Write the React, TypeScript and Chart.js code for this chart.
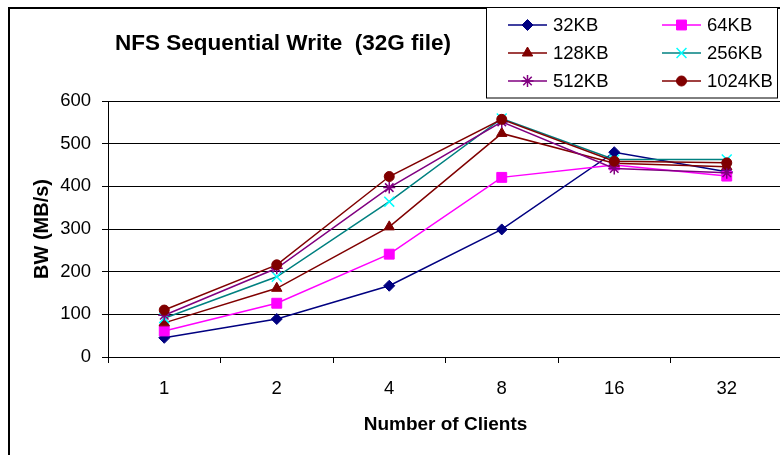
import React, { useEffect, useRef } from 'react';
import Chart from 'chart.js/auto';
import { drawPoint } from 'chart.js/helpers';

const categories = ['1', '2', '4', '8', '16', '32'];
const seriesNames = ['32KB', '64KB', '128KB', '256KB', '512KB', '1024KB'];
const s32 = [45, 89, 167, 299, 480, 434];
const s64 = [61, 126, 241, 421, 450, 424];
const s128 = [80, 161, 305, 524, 454, 446];
const s256 = [91, 188, 364, 559, 463, 463];
const s512 = [98, 208, 397, 551, 442, 432];
const s1024 = [110, 216, 423, 557, 459, 455];
const yMin = 0;
const yMax = 600;
const yStep = 100;

const seriesValues = [s32, s64, s128, s256, s512, s1024];

const FONT = '"Liberation Sans", Arial, sans-serif';

const styles = [
  { line: '#000080', fill: '#000080', stroke: '#000080', pointStyle: 'rectRot', radius: 5.5, bw: 1 },
  { line: '#FF00FF', fill: '#FF00FF', stroke: '#FF00FF', pointStyle: 'rect', radius: 7, bw: 1 },
  { line: '#800000', fill: '#800000', stroke: '#800000', pointStyle: 'triangle', radius: 6, bw: 1 },
  { line: '#008080', fill: 'rgba(0,0,0,0)', stroke: '#00FFFF', pointStyle: 'crossRot', radius: 7, bw: 1.5 },
  { line: '#800080', fill: 'rgba(0,0,0,0)', stroke: '#800080', pointStyle: 'star', radius: 6, bw: 1.5 },
  { line: '#800000', fill: '#800000', stroke: '#800000', pointStyle: 'circle', radius: 5, bw: 1 },
];

const decor = {
  id: 'decor',
  beforeDraw(chart: any) {
    const ctx = chart.ctx;
    ctx.save();
    ctx.fillStyle = '#fff';
    ctx.fillRect(0, 0, chart.width, chart.height);
    ctx.restore();
  },
  afterDraw(chart: any) {
    const ctx = chart.ctx;
    ctx.save();
    // outer border
    ctx.strokeStyle = '#000';
    ctx.lineWidth = 2;
    ctx.strokeRect(9, 8, 1000, 1000);
    // title
    ctx.fillStyle = '#000';
    ctx.font = `bold 22.5px ${FONT}`;
    ctx.textAlign = 'center';
    ctx.textBaseline = 'middle';
    ctx.fillText('NFS Sequential Write  (32G file)', 283, 44);
    // legend box
    ctx.fillStyle = '#fff';
    ctx.fillRect(486.5, 7.5, 291, 90.5);
    ctx.strokeStyle = '#000';
    ctx.lineWidth = 1;
    ctx.strokeRect(486.5, 7.5, 291, 90.5);
    const rows = [25, 53, 81];
    const cols = [508, 662];
    ctx.font = `18.5px ${FONT}`;
    ctx.textAlign = 'left';
    ctx.textBaseline = 'middle';
    seriesNames.forEach((name, i) => {
      const st = styles[i];
      const x0 = cols[i % 2];
      const y = rows[Math.floor(i / 2)];
      ctx.strokeStyle = st.line;
      ctx.lineWidth = 1.5;
      ctx.beginPath();
      ctx.moveTo(x0, y);
      ctx.lineTo(x0 + 39, y);
      ctx.stroke();
      ctx.fillStyle = st.fill;
      ctx.strokeStyle = st.stroke;
      ctx.lineWidth = st.bw;
      drawPoint(ctx, { pointStyle: st.pointStyle, radius: st.radius, rotation: 0, borderWidth: st.bw } as any, x0 + 19.5, y);
      ctx.fillStyle = '#000';
      ctx.fillText(name, x0 + 45, y + 1);
    });
    ctx.restore();
  },
};

export default function App() {
  const ref = useRef<HTMLCanvasElement>(null);
  useEffect(() => {
    const datasets = seriesNames.map((name, i) => ({
      label: name,
      data: seriesValues[i],
      borderColor: styles[i].line,
      backgroundColor: styles[i].fill,
      borderWidth: 1.5,
      pointStyle: styles[i].pointStyle as any,
      pointRadius: styles[i].radius,
      pointBackgroundColor: styles[i].fill,
      pointBorderColor: styles[i].stroke,
      pointBorderWidth: styles[i].bw,
      tension: 0,
      fill: false,
      order: 5 - i,
    }));
    const chart = new Chart(ref.current!, {
      type: 'line',
      data: { labels: categories, datasets },
      plugins: [decor],
      options: {
        responsive: false,
        animation: false,
        devicePixelRatio: 1,
        layout: { padding: { top: 101, left: 0, right: 17, bottom: 0 } },
        plugins: { legend: { display: false }, title: { display: false }, tooltip: { enabled: false } },
        scales: {
          x: {
            type: 'category',
            offset: true,
            grid: { offset: true, drawOnChartArea: false, drawTicks: true, tickLength: 6, color: '#000', lineWidth: 1 },
            border: { display: true, color: '#000', width: 1 },
            ticks: { color: '#000', font: { family: FONT, size: 18.5 }, padding: 15, maxRotation: 0, autoSkip: false },
            title: { display: true, text: 'Number of Clients', color: '#000', font: { family: FONT, size: 19, weight: 'bold' }, padding: { top: 0, bottom: 34 } },
            afterFit: (s: any) => { s.height = 113; },
          },
          y: {
            min: yMin,
            max: yMax,
            ticks: { stepSize: yStep, color: '#000', font: { family: FONT, size: 18.5 }, padding: 11 },
            grid: { color: '#000', lineWidth: 1, tickLength: 6, drawTicks: true },
            border: { display: true, color: '#000', width: 1 },
            title: { display: true, text: 'BW (MB/s)', color: '#000', font: { family: FONT, size: 20, weight: 'bold' }, padding: { top: 30, bottom: 0 } },
            afterFit: (s: any) => { s.width = 108; },
          },
        },
      } as any,
    });
    return () => chart.destroy();
  }, []);
  return (
    <div style={{ position: 'fixed', left: 0, top: 0, width: 780, height: 455, overflow: 'hidden', background: '#fff' }}>
      <canvas ref={ref} width={800} height={470} style={{ display: 'block' }} />
    </div>
  );
}
